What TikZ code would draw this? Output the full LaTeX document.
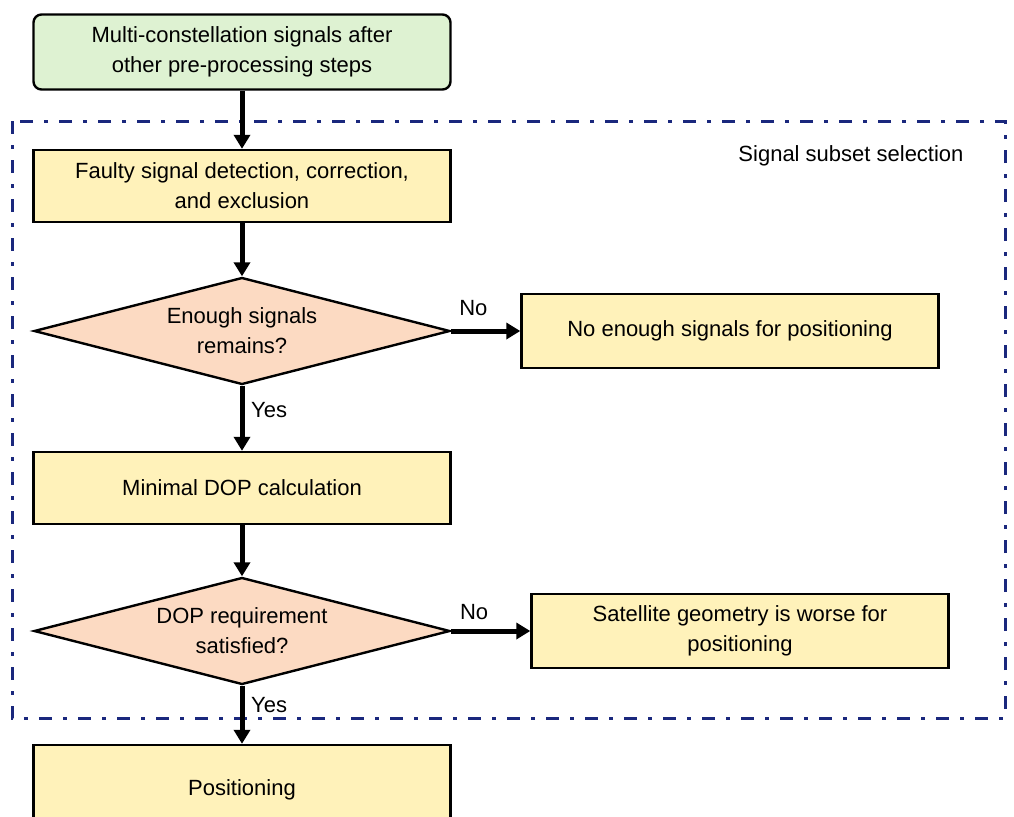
\documentclass[tikz,border=0pt]{standalone}
\usepackage{fontspec}
\setmainfont{Liberation Sans}
\usetikzlibrary{shapes.geometric,arrows.meta,positioning}
\definecolor{boxyellow}{RGB}{255,242,186}
\definecolor{boxgreen}{RGB}{222,242,210}
\definecolor{diapeach}{RGB}{252,218,194}
\definecolor{framenavy}{RGB}{26,40,125}
\tikzset{
  stepbox/.style={draw, line width=1.2pt, fill=boxyellow, minimum width=208.5pt,
    minimum height=36pt, align=center, inner sep=0pt},
  startbox/.style={stepbox, fill=boxgreen, rounded corners=4pt, minimum height=37.5pt},
  decision/.style={draw, diamond, aspect=3.9, line width=1.2pt, fill=diapeach,
    minimum width=208pt, minimum height=53.5pt, align=center, inner sep=0pt},
  flowarrow/.style={line width=2.5pt, -{Triangle[length=7pt,width=8pt]}},
  subsetframe/.style={framenavy, line width=1.5pt,
    dash pattern=on 6.5pt off 5.5pt on 2pt off 5.5pt}
}

\begin{document}
\begin{tikzpicture}[x=0.5pt,y=-0.5pt,font=\fontsize{11pt}{15pt}\selectfont]
	\useasboundingbox (0,0) rectangle (1014,816);
	\clip (0,0) rectangle (1014,816);
	% signal subset selection frame
	\draw[subsetframe] (12,121) rectangle (1005,718);
	\node (subset) at (851,156) {Signal subset selection};
	% flow
	\node[startbox] (input) at (242,52) {Multi-constellation signals after\\other pre-processing steps};
	\node[stepbox] (faulty) at (242,186) {Faulty signal detection, correction,\\and exclusion};
	\node[decision] (enough) at (242,331) {Enough signals\\remains?};
	\node[stepbox, minimum height=37pt] (noenough) at (730,331) {No enough signals for positioning};
	\node[stepbox] (mindop) at (242,488) {Minimal DOP calculation};
	\node[decision] (dopreq) at (242,631) {DOP requirement\\satisfied?};
	\node[stepbox, minimum height=37pt] (worse) at (740,631) {Satellite geometry is worse for\\positioning};
	\node[stepbox, minimum height=45pt] (position) at (242,790) {Positioning};
	% connectors
	\draw[flowarrow] (input) -- (faulty);
	\draw[flowarrow] (faulty) -- (enough);
	\draw[flowarrow] (enough.east) -- node[pos=0.32,above=3pt] {No} (noenough);
	\draw[flowarrow] (enough) -- node[pos=0.37,right=0pt] {Yes} (mindop);
	\draw[flowarrow] (mindop) -- (dopreq);
	\draw[flowarrow] (dopreq.east) -- node[pos=0.29,above=1pt] {No} (worse);
	\draw[flowarrow] (dopreq) -- node[pos=0.34,right=0pt] {Yes} (position);
\end{tikzpicture}
\end{document}
